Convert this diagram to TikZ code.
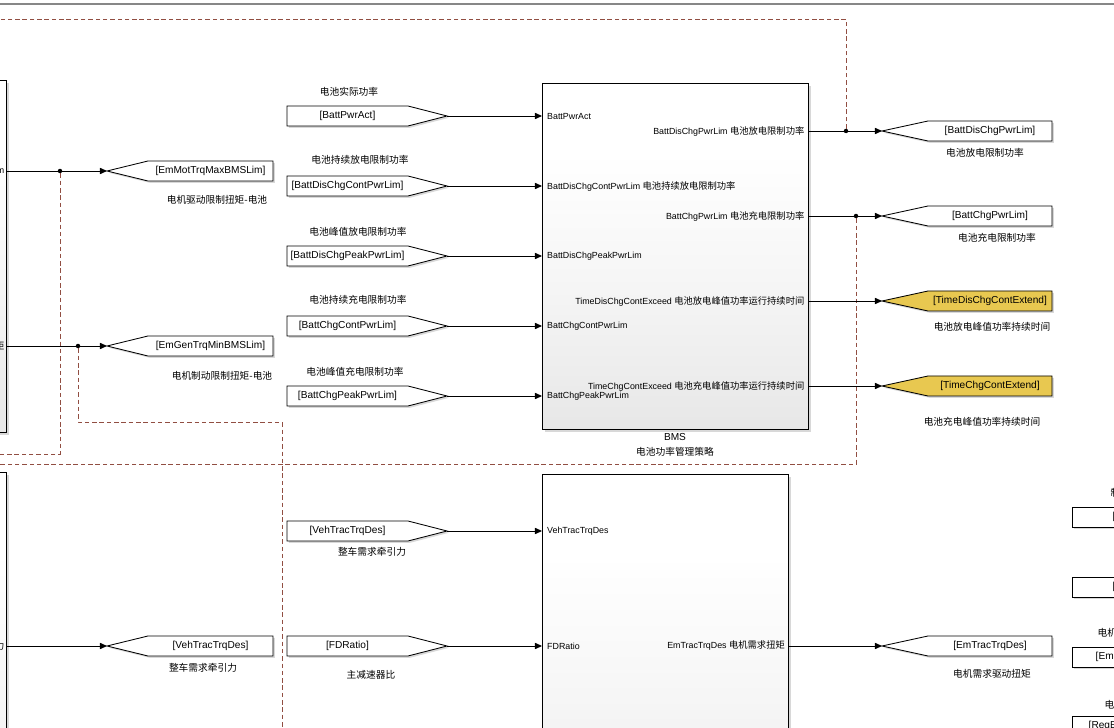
\documentclass[tikz,border=0pt]{standalone}
\usepackage{fontspec}
\setmainfont{Liberation Sans}
\newfontfamily\cjk{Noto Sans CJK SC}
\usetikzlibrary{arrows.meta, positioning, calc, shadows}
\definecolor{linkred}{RGB}{145,78,66}
\definecolor{tagyel}{RGB}{232,200,80}
\definecolor{topgray}{RGB}{135,135,135}
\newcommand{\hz}[1]{{\cjk\fontsize{6.6}{7.5}\selectfont #1}}
\pgfdeclareverticalshading{blkfill}{100bp}{color(0bp)=(black!16); color(45bp)=(black!4); color(65bp)=(white); color(100bp)=(white)}
\tikzset{
  lbl/.style={font=\fontsize{7.2}{8}\selectfont, inner sep=1pt},
  port/.style={font=\fontsize{6.3}{7.5}\selectfont, inner sep=1pt},
  hzlbl/.style={font=\cjk\fontsize{6.9}{8}\selectfont, inner sep=1pt},
  blk/.style={draw=black, line width=0.7pt, shading=blkfill, inner sep=0pt,
              drop shadow={shadow xshift=1.6pt, shadow yshift=-1.6pt, opacity=0.3}},
  tagshape/.style={draw=black, line width=0.6pt, fill=white,
              drop shadow={shadow xshift=1.3pt, shadow yshift=-1.3pt, opacity=0.3}},
  rbox/.style={tagshape, rectangle, inner sep=0pt, minimum width=3.2cm, minimum height=0.5cm},
  sig/.style={-{Triangle[length=5pt, width=4.4pt]}, line width=0.7pt},
  sigtrace/.style={draw=linkred, line width=0.55pt, dash pattern=on 3.2pt off 2pt},
  jdot/.style={circle, fill=black, inner sep=0pt, minimum size=3pt}
}

\begin{document}
\begin{tikzpicture}[x=0.025cm, y=-0.025cm]
  \useasboundingbox (0,0) rectangle (1114,728);
  \clip (0,0) rectangle (1114,728);
  \fill[white] (0,0) rectangle (1114,728);
  \draw[line width=1.6pt, topgray] (-5,4) -- (1120,4);

  % blocks
  \node[blk, minimum width=2.675cm, minimum height=8.8cm, anchor=north east] (inblkA) at (7,80) {};
  \node[blk, minimum width=2.675cm, minimum height=10cm, anchor=north east] (inblkB) at (7,472) {};
  \node[blk, minimum width=6.65cm, minimum height=8.65cm, anchor=north west] (bms) at (542,83) {};
  \node[blk, minimum width=6.15cm, minimum height=10cm, anchor=north west] (ftq) at (542,474) {};
  \node[lbl] (bmsname) at (675,437) {BMS};
  \node[hzlbl] (bmscap) at (675,452) {电池功率管理策略};

  % dashed traces
  \node[jdot] (jA) at (60,171) {};
  \node[jdot] (jB) at (78,346) {};
  \node[jdot] (jC) at (846,131) {};
  \node[jdot] (jD) at (856,216) {};
  \coordinate (eA) at (-5,19);
  \coordinate (eB) at (-5,454);
  \coordinate (eC) at (-5,464);
  \coordinate (kB) at (282,422);
  \coordinate (eD) at (282,740);
  \draw[sigtrace] (jC) -- (jC |- eA) -- (eA);
  \draw[sigtrace] (jA) -- (jA |- eB) -- (eB);
  \draw[sigtrace] (jD) -- (jD |- eC) -- (eC);
  \draw[sigtrace] (jB) |- (kB) -- (eD);

  % left goto tags
  \foreach \y/\src/\pl/\sname/\cname/\cx/\cy [count=\i] in {
      171/inblkA/m/EmMotTrqMaxBMSLim/电机驱动限制扭矩-电池/217/200,
      346/inblkA/\hz{矩}/EmGenTrqMinBMSLim/电机制动限制扭矩-电池/222/376,
      646/inblkB/\hz{力}/VehTracTrqDes/整车需求牵引力/203/668}{
    \draw[tagshape] (107,\y) coordinate (ltip\i) -- (148,\y-10) -- (273,\y-10) -- (273,\y+10) -- (148,\y+10) -- cycle;
    \node[lbl] (ltag\i) at (210.5,\y) {[\sname]};
    \node[hzlbl] (lcap\i) at (\cx,\cy) {\cname};
    \node[port, anchor=east] (lport\i) at (6,\y) {\pl};
    \draw[sig] (\src.east |- ltip\i) -- (ltip\i);
  }
  \node[jdot] at (jA) {};
  \node[jdot] at (jB) {};

  % from tags into BMS
  \foreach \y/\sname/\cname/\cx/\cy [count=\i] in {
      116/BattPwrAct/电池实际功率/349/92,
      186/BattDisChgContPwrLim/电池持续放电限制功率/360/160,
      256/BattDisChgPeakPwrLim/电池峰值放电限制功率/358/232,
      326/BattChgContPwrLim/电池持续充电限制功率/358/300,
      396/BattChgPeakPwrLim/电池峰值充电限制功率/355/372}{
    \draw[tagshape] (287,\y-10) -- (408,\y-10) -- (447,\y) coordinate (ftip\i) -- (408,\y+10) -- (287,\y+10) -- cycle;
    \node[lbl] (ftag\i) at (347.5,\y) {[\sname]};
    \node[hzlbl] (fcap\i) at (\cx,\cy) {\cname};
    \draw[sig] (ftip\i) -- (bms.west |- ftip\i);
  }
  \node[port, anchor=west] (pin1) at (545.5,116) {BattPwrAct};
  \node[port, anchor=west] (pin2) at (545.5,186) {BattDisChgContPwrLim \hz{电池持续放电限制功率}};
  \node[port, anchor=west] (pin3) at (545.5,256) {BattDisChgPeakPwrLim};
  \node[port, anchor=west] (pin4) at (545.5,326) {BattChgContPwrLim};
  \node[port, anchor=west] (pin5) at (545.5,396) {BattChgPeakPwrLim};

  % goto tags out of BMS
  \foreach \y/\pname/\pcn/\sname/\cname/\cx/\cy/\fc [count=\i] in {
      131/BattDisChgPwrLim/电池放电限制功率/BattDisChgPwrLim/电池放电限制功率/985/153/white,
      216/BattChgPwrLim/电池充电限制功率/BattChgPwrLim/电池充电限制功率/997/238/white,
      301/TimeDisChgContExceed/电池放电峰值功率运行持续时间/TimeDisChgContExtend/电池放电峰值功率持续时间/992/327/tagyel,
      386/TimeChgContExceed/电池充电峰值功率运行持续时间/TimeChgContExtend/电池充电峰值功率持续时间/982/422/tagyel}{
    \draw[tagshape, fill=\fc] (882,\y) coordinate (gtip\i) -- (928,\y-10) -- (1052,\y-10) -- (1052,\y+10) -- (928,\y+10) -- cycle;
    \node[lbl] (gtag\i) at (990,\y) {[\sname]};
    \node[hzlbl] (gcap\i) at (\cx,\cy) {\cname};
    \node[port, anchor=east] (pout\i) at (806,\y) {\pname\ \hz{\pcn}};
    \draw[sig] (bms.east |- gtip\i) -- (gtip\i);
  }
  \node[jdot] at (jC) {};
  \node[jdot] at (jD) {};

  % lower block
  \foreach \y/\sname/\cname/\cx/\cy [count=\i] in {
      531/VehTracTrqDes/整车需求牵引力/372/552,
      646/FDRatio/主减速器比/371/675}{
    \draw[tagshape] (287,\y-10) -- (408,\y-10) -- (447,\y) coordinate (qtip\i) -- (408,\y+10) -- (287,\y+10) -- cycle;
    \node[lbl] (qtag\i) at (347.5,\y) {[\sname]};
    \node[hzlbl] (qcap\i) at (\cx,\cy) {\cname};
    \node[port, anchor=west] (qin\i) at (545.5,\y) {\sname};
    \draw[sig] (qtip\i) -- (ftq.west |- qtip\i);
  }
  \draw[tagshape] (882,646) coordinate (qout) -- (928,636) -- (1052,636) -- (1052,656) -- (928,656) -- cycle;
  \node[lbl] (qouttag) at (990,646) {[EmTracTrqDes]};
  \node[hzlbl] (qoutcap) at (992,674) {电机需求驱动扭矩};
  \node[port, anchor=east] (qport) at (786.5,646) {EmTracTrqDes \hz{电机需求扭矩}};
  \draw[sig] (ftq.east |- qout) -- (qout);

  % right column, cut by the window
  \foreach \y/\tx/\txt [count=\i] in {517/1111/{[}, 587/1111/{[}, 657/1094/{[Em}, 726/1087/{[RegE}}{
    \node[rbox, anchor=west] (rb\i) at (1072,\y) {};
    \node[lbl, anchor=west] (rt\i) at (\tx,\y) {\txt};
  }
  \node[hzlbl, anchor=west] (rc1) at (1109,493) {制};
  \node[hzlbl, anchor=west] (rc2) at (1096,633) {电机};
  \node[hzlbl, anchor=west] (rc3) at (1103,705) {电};
\end{tikzpicture}
\end{document}
